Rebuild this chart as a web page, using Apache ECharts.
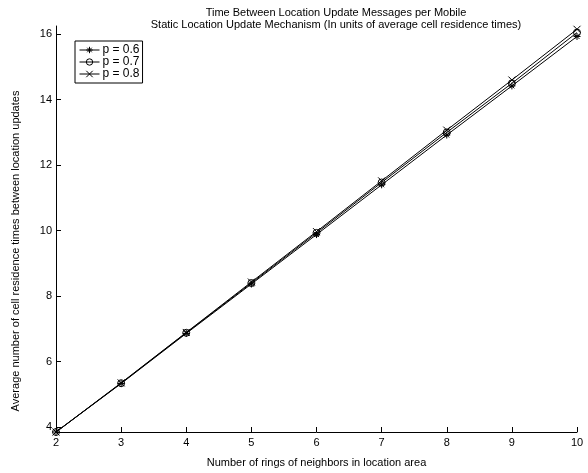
<!DOCTYPE html>
<html>
<head>
<meta charset="utf-8">
<script src="https://cdn.jsdelivr.net/npm/echarts@6/dist/echarts.min.js"></script>
<style>
  html, body { margin: 0; padding: 0; background: #fff; }
  #chart { width: 588px; height: 473px; }
</style>
</head>
<body>
<div id="chart"></div>
<script>
// rings of neighbours
const rings = [2, 3, 4, 5, 6, 7, 8, 9, 10];
// time between updates (cell residence times)
const p06 = [3.85, 5.33, 6.86, 8.37, 9.88, 11.40, 12.92, 14.42, 15.93];
const p07 = [3.85, 5.34, 6.88, 8.40, 9.93, 11.47, 13.00, 14.50, 16.05];
const p08 = [3.85, 5.35, 6.89, 8.43, 9.97, 11.52, 13.07, 14.60, 16.15];
const yTicks = [4, 6, 8, 10, 12, 14, 16];

const FONT = "Liberation Sans";
// matlab-ish markers
const starPath = "path://M5 0L5 10M0 5L10 5M1.5 1.5L8.5 8.5M8.5 1.5L1.5 8.5";
const crossPath = "path://M0 0L10 10M10 0L0 10";

function mkSeries(name, data, symbol) {
  return {
    name: name,
    type: "line",
    data: rings.map((r, i) => [r, data[i]]),
    symbol: symbol,
    symbolSize: 7,
    showSymbol: true,
    animation: false,
    lineStyle: { color: "#000", width: 1 },
    itemStyle: { color: "transparent", borderColor: "#000", borderWidth: 1 },
  };
}

const chart = echarts.init(document.getElementById("chart"));
chart.setOption({
  backgroundColor: "#fff",
  textStyle: { fontFamily: FONT },
  title: {
    text: "Time Between Location Update Messages per Mobile\nStatic Location Update Mechanism (In units of average cell residence times)",
    left: 331,
    textAlign: "center",
    top: 2,
    textStyle: { fontFamily: FONT, fontSize: 11, fontWeight: "normal", color: "#000", lineHeight: 12 },
  },
  legend: {
    orient: "vertical",
    left: 75,
    top: 41,
    padding: [3, 3, 3, 4],
    itemGap: 0,
    itemWidth: 20,
    itemHeight: 8,
    borderColor: "#000",
    borderWidth: 1,
    borderRadius: 0,
    backgroundColor: "#fff",
    itemStyle: { color: "transparent", borderColor: "#000", borderWidth: 1 },
    lineStyle: { color: "#000", width: 1 },
    textStyle: { fontFamily: FONT, fontSize: 12, color: "#000", padding: [0, 0, 0, -2] },
    data: ["p = 0.6", "p = 0.7", "p = 0.8"],
  },
  grid: { left: 56, right: 11, top: 26, bottom: 39 },
  xAxis: {
    type: "value",
    min: 2,
    max: 10,
    interval: 1,
    name: "Number of rings of neighbors in location area",
    nameLocation: "middle",
    nameGap: 25,
    nameTextStyle: { fontFamily: FONT, fontSize: 11, color: "#000" },
    axisLine: { lineStyle: { color: "#000", width: 1 } },
    axisTick: { inside: true, length: 5, lineStyle: { color: "#000" } },
    axisLabel: { fontFamily: FONT, fontSize: 11, color: "#000", margin: 5 },
    splitLine: { show: false },
  },
  yAxis: {
    type: "value",
    min: 3.85,
    max: 16.25,
    name: "Average number of cell residence times between location updates",
    nameLocation: "middle",
    nameGap: 35,
    nameTextStyle: { fontFamily: FONT, fontSize: 11, color: "#000", padding: [0, 44, 0, 0] },
    axisLine: { show: true, lineStyle: { color: "#000", width: 1 } },
    axisTick: { show: true, inside: true, length: 5, customValues: yTicks, lineStyle: { color: "#000" } },
    axisLabel: { fontFamily: FONT, fontSize: 11, color: "#000", margin: 4, customValues: yTicks },
    splitLine: { show: false },
  },
  series: [
    mkSeries("p = 0.6", p06, starPath),
    mkSeries("p = 0.7", p07, "circle"),
    mkSeries("p = 0.8", p08, crossPath),
  ],
});
</script>
</body>
</html>
